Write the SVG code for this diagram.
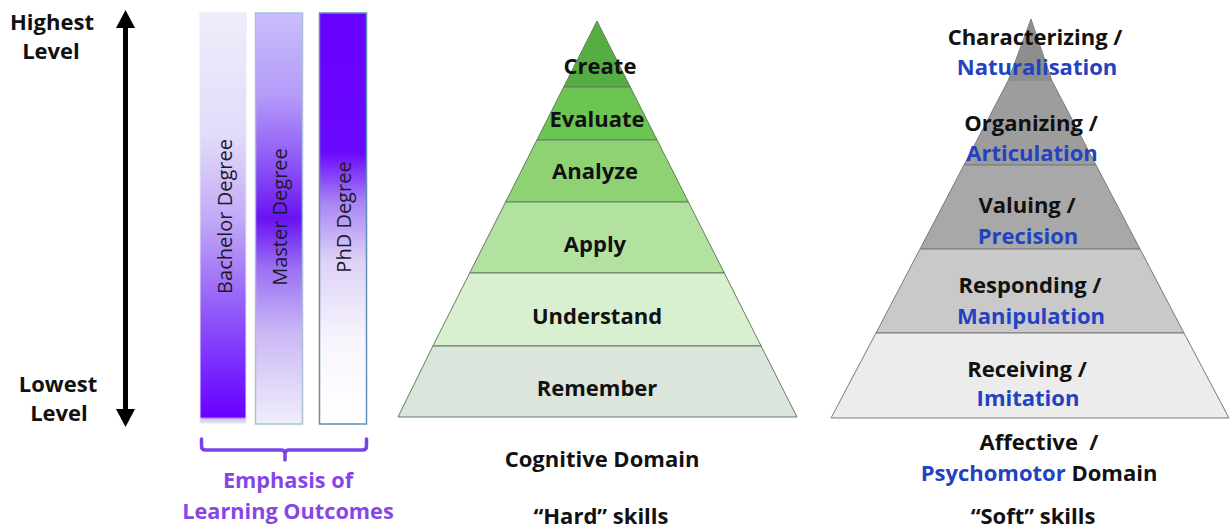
<svg xmlns="http://www.w3.org/2000/svg" width="1231" height="529" viewBox="0 0 1231 529">
<defs>
<style>
.lbl{font-family:"Open Sans","Liberation Sans",sans-serif;font-weight:700;font-size:22px;fill:#111;text-anchor:middle}
.blue{fill:#2242c2}
.pur{fill:#8646e6;font-size:21.7px}
.vt{font-family:"Open Sans","Liberation Sans",sans-serif;font-size:20px;fill:#1a1a2a;text-anchor:middle}
.cg{stroke:#5f7f5f;stroke-width:1}
.gr{stroke:#7a7a7a;stroke-width:1}
</style>
<linearGradient id="gBach" x1="0" y1="0" x2="0" y2="1">
<stop offset="0" stop-color="#efedfb"/>
<stop offset="0.3" stop-color="#e2dbfa"/>
<stop offset="0.5" stop-color="#c2aaf7"/>
<stop offset="0.7" stop-color="#9763f8"/>
<stop offset="0.88" stop-color="#7624fe"/>
<stop offset="0.985" stop-color="#6a00ff"/>
<stop offset="0.99" stop-color="#d0c4f4"/>
<stop offset="1" stop-color="#e6e0f8"/>
</linearGradient>
<linearGradient id="gMast" x1="0" y1="0" x2="0" y2="1">
<stop offset="0" stop-color="#cabdfc"/>
<stop offset="0.2" stop-color="#b49bfa"/>
<stop offset="0.38" stop-color="#8a4ff5"/>
<stop offset="0.5" stop-color="#6a12f2"/>
<stop offset="0.62" stop-color="#9a70f2"/>
<stop offset="0.78" stop-color="#cbb8f5"/>
<stop offset="1" stop-color="#f1eefb"/>
</linearGradient>
<linearGradient id="gPhd" x1="0" y1="0" x2="0" y2="1">
<stop offset="0" stop-color="#6600ff"/>
<stop offset="0.34" stop-color="#6a08fc"/>
<stop offset="0.46" stop-color="#a784f4"/>
<stop offset="0.6" stop-color="#ddd1f6"/>
<stop offset="0.8" stop-color="#f8f6fd"/>
<stop offset="1" stop-color="#ffffff"/>
</linearGradient>
<marker id="ah" markerUnits="userSpaceOnUse" markerWidth="18" markerHeight="19" viewBox="0 0 18 19" refX="0" refY="9.5" orient="auto-start-reverse">
<path d="M0,0 L18,9.5 L0,19 z" fill="#000"/>
</marker>
</defs>
<rect width="1231" height="529" fill="#fff"/>

<g id="connectors">
<line x1="125.5" y1="28" x2="125.5" y2="409" stroke="#000" stroke-width="5" marker-start="url(#ah)" marker-end="url(#ah)"/>
<path d="M201.5,439 L201.5,446 Q201.5,450 205.5,450 L281,450 Q285,450 285,454 L285,460 M285,454 Q285,450 289,450 L362.5,450 Q366.5,450 366.5,446 L366.5,439" fill="none" stroke="#7a45e6" stroke-width="3.5" stroke-linecap="round"/>
</g>

<g id="level-labels">
<text class="lbl" x="52" y="30">Highest</text>
<text class="lbl" x="51" y="59">Level</text>
<text class="lbl" x="58" y="392">Lowest</text>
<text class="lbl" x="59" y="421">Level</text>
</g>

<g id="bachelor">
<rect x="200" y="13" width="46" height="410" fill="url(#gBach)" stroke="#e4e8f4" stroke-width="1"/>
<text class="vt" transform="translate(232,216.5) rotate(-90)">Bachelor Degree</text>
</g>
<g id="master">
<rect x="255.5" y="13" width="47" height="411" fill="url(#gMast)" stroke="#a9c0d8" stroke-width="1.5"/>
<text class="vt" transform="translate(287,217) rotate(-90)">Master Degree</text>
</g>
<g id="phd">
<rect x="319.5" y="13" width="47" height="411" fill="url(#gPhd)" stroke="#5f8fb5" stroke-width="1.5"/>
<text class="vt" transform="translate(351,217) rotate(-90)">PhD Degree</text>
</g>
<g id="emphasis">
<text class="lbl pur" x="288" y="488">Emphasis of</text>
<text class="lbl pur" x="288" y="519">Learning Outcomes</text>
</g>

<g id="cognitive">
<g id="create"><polygon class="cg" points="597,21 630.3,87 563.7,87" fill="#56ae43"/><text class="lbl" x="600" y="74">Create</text></g>
<g id="evaluate"><polygon class="cg" points="563.7,87 630.3,87 657.1,140 536.9,140" fill="#6cc453"/><text class="lbl" x="597" y="127">Evaluate</text></g>
<g id="analyze"><polygon class="cg" points="536.9,140 657.1,140 688.4,202 505.6,202" fill="#8fd274"/><text class="lbl" x="595" y="179">Analyze</text></g>
<g id="apply"><polygon class="cg" points="505.6,202 688.4,202 724.3,273 469.7,273" fill="#b3e1a0"/><text class="lbl" x="595" y="252">Apply</text></g>
<g id="understand"><polygon class="cg" points="469.7,273 724.3,273 761.1,346 432.9,346" fill="#d8f0d0"/><text class="lbl" x="597" y="324">Understand</text></g>
<g id="remember"><polygon class="cg" points="432.9,346 761.1,346 797,417 398,417" fill="#dbe5dc"/><text class="lbl" x="597" y="396">Remember</text></g>
<text class="lbl" x="602" y="467">Cognitive Domain</text>
<text class="lbl" x="601" y="524">“Hard” skills</text>
</g>

<g id="affective">
<g id="characterizing-organizing">
<polygon class="gr" points="1031,19 1052,81 1096,165 964,165 1008,81" fill="#9d9d9d"/>
<polygon points="1031,19 1052,81 1009,81" fill="#8e8e8e"/>
<text class="lbl" x="1035" y="45">Characterizing /</text>
<text class="lbl blue" x="1037" y="75">Naturalisation</text>
<text class="lbl" x="1031" y="131">Organizing /</text>
<text class="lbl blue" x="1032" y="161">Articulation</text>
</g>
<g id="valuing"><polygon class="gr" points="964,165 1096,165 1140,249 920,249" fill="#a8a8a8"/><text class="lbl" x="1027" y="213">Valuing /</text><text class="lbl blue" x="1028" y="244">Precision</text></g>
<g id="responding"><polygon class="gr" points="920,249 1140,249 1184,333 876,333" fill="#c9c9c9"/><text class="lbl" x="1030" y="293">Responding /</text><text class="lbl blue" x="1031" y="324">Manipulation</text></g>
<g id="receiving"><polygon class="gr" points="876,333 1184,333 1229,418 831,418" fill="#ececec"/><text class="lbl" x="1027" y="377">Receiving /</text><text class="lbl blue" x="1028" y="406">Imitation</text></g>
<text class="lbl" x="1039" y="450" xml:space="preserve">Affective  /</text>
<text class="lbl" x="1039" y="481"><tspan class="blue">Psychomotor</tspan> Domain</text>
<text class="lbl" x="1033" y="524">“Soft” skills</text>
</g>
</svg>
